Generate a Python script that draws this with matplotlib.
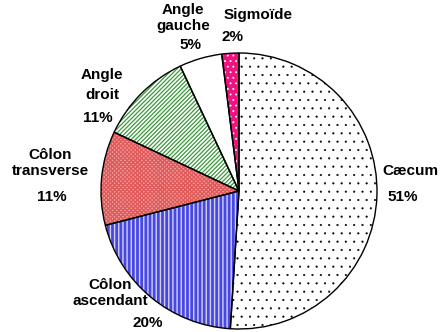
import matplotlib
matplotlib.use("Agg")
import matplotlib.pyplot as plt

# data (clockwise from 12 o'clock)
segments = ["Cæcum", "Côlon\nascendant", "Côlon\ntransverse", "Angle\ndroit", "Angle\ngauche", "Sigmoïde"]
percents = [51, 20, 11, 11, 5, 2]

faces = ["white", "#4848e0", "#f2a0a0", "white", "white", "#f0137f"]
hatch_colors = ["black", "#d0d0ff", "#e05a5a", "#3a9a3a", "white", "white"]
hatches = ["..", "||||", "xxxxxxxx", "////////", "", "..."]
hatch_widths = [0.3, 1.0, 1.0, 0.9, 1.0, 0.6]

plt.rcParams['font.family'] = ['Liberation Sans', 'DejaVu Sans']
plt.rcParams['hatch.linewidth'] = 1.0

fig = plt.figure(figsize=(4.43, 3.32), dpi=100)
ax = fig.add_axes([0, 0, 1, 1])

center = (239, 141)
radius = 138

# fills + hatches
wedges, _ = ax.pie(percents, startangle=90, counterclock=False, center=center,
                   radius=radius, frame=True)
for w, fc, hc, h, hw in zip(wedges, faces, hatch_colors, hatches, hatch_widths):
    w.set_facecolor(fc)
    w.set_edgecolor(hc)
    w.set_linewidth(0)
    w.set_hatch(h)
    if hasattr(w, 'set_hatch_linewidth'):
        w.set_hatch_linewidth(hw)
    else:
        w._hatch_linewidth = hw

# outlines
ax.pie(percents, startangle=90, counterclock=False, center=center, radius=radius,
       frame=True, wedgeprops=dict(facecolor='none', edgecolor='black', linewidth=1.0))
ax.set_xlim(0, 443)
ax.set_ylim(0, 332)
ax.set_aspect('equal')
ax.axis('off')

# label positions in pixels (x, y from top), name then percent
name_pos = [(410, 171), (110, 293), (50, 163), (102, 85), (183, 18), (258, 15)]
pct_pos = [(403, 197), (148, 323), (52, 197), (98, 118), (190, 45), (233, 37)]
spacing = [1.25, 1.25, 1.25, 1.5, 1.25, 1.25]

for name, p, (nx, ny), (px, py), ls in zip(segments, percents, name_pos, pct_pos, spacing):
    ax.text(nx, 332 - ny, name, ha='center', va='center', fontsize=11,
            fontweight='bold', linespacing=ls)
    ax.text(px, 332 - py, f"{p}%", ha='center', va='center', fontsize=11,
            fontweight='bold')

fig.savefig("out.png", dpi=100)
